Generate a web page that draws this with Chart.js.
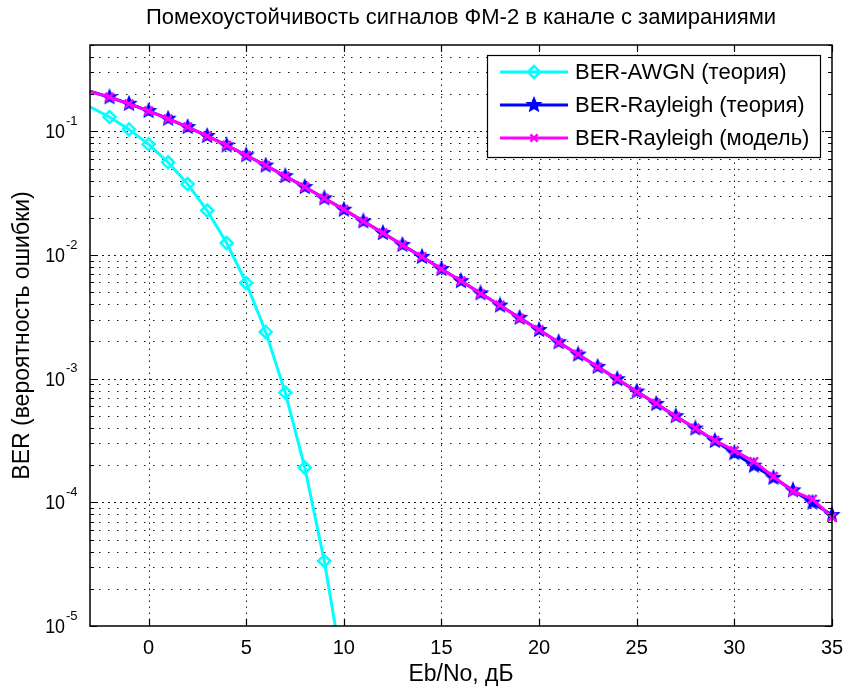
<!DOCTYPE html>
<html>
<head>
<meta charset="utf-8">
<script src="https://cdn.jsdelivr.net/npm/chart.js@4.4.1/dist/chart.umd.min.js"></script>
<style>
  html, body { margin: 0; padding: 0; background: #fff; }
  #wrap { width: 845px; height: 689px; }
</style>
</head>
<body>
<div id="wrap"><canvas id="c"></canvas></div>
<script>
// Eb/No grid, dB
const ebno = [-3, -2, -1, 0, 1, 2, 3, 4, 5, 6, 7, 8, 9, 10, 11, 12, 13, 14, 15, 16,
  17, 18, 19, 20, 21, 22, 23, 24, 25, 26, 27, 28, 29, 30, 31, 32, 33, 34, 35];

// BPSK in AWGN, theory (-3 .. 10 dB)
const berAwgn = [0.1584, 0.1306, 0.1038, 0.0786, 0.0563, 0.0375, 0.0229, 0.0125,
  0.00595, 0.00239, 7.73e-4, 1.91e-4, 3.36e-5, 3.87e-6];

// BPSK in Rayleigh fading, theory
const berRayTheory = [0.2111, 0.1890, 0.1673, 0.1464, 0.1267, 0.1085, 0.0919, 0.0771,
  0.0642, 0.0530, 0.0435, 0.0355, 0.0288, 0.0233, 0.01875, 0.01507, 0.01208, 0.00967,
  0.00772, 0.00616, 0.00491, 0.00391, 0.00311, 0.00248, 0.001974, 0.001570, 0.001248,
  9.92e-4, 7.88e-4, 6.26e-4, 4.98e-4, 3.96e-4, 3.14e-4, 2.50e-4, 1.98e-4, 1.58e-4,
  1.25e-4, 9.95e-5, 7.90e-5];

// BPSK in Rayleigh fading, simulation
const berRayModel = [0.2108, 0.1893, 0.1671, 0.1466, 0.1265, 0.1087, 0.0917, 0.0773,
  0.0641, 0.0531, 0.0434, 0.0356, 0.0287, 0.0234, 0.01872, 0.01512, 0.01205, 0.00970,
  0.00769, 0.00619, 0.00488, 0.00393, 0.00309, 0.00249, 0.00196, 0.00158, 0.00124,
  9.98e-4, 7.81e-4, 6.32e-4, 4.94e-4, 3.99e-4, 3.17e-4, 2.62e-4, 2.14e-4, 1.62e-4,
  1.23e-4, 1.06e-4, 7.6e-5];

const xTicks = [0, 5, 10, 15, 20, 25, 30, 35];
const yDecades = [1e-5, 1e-4, 1e-3, 1e-2, 1e-1];
const yExponents = [-5, -4, -3, -2, -1];

const seriesNames = ['BER-AWGN (теория)', 'BER-Rayleigh (теория)', 'BER-Rayleigh (модель)'];
const chartTitle = 'Помехоустойчивость сигналов ФМ-2 в канале с замираниями';

const FONT = "'Liberation Sans', Arial, sans-serif";
const Y_MIN = 1e-5, Y_MAX = 0.5;

function points(ys) {
  return ys.map((y, i) => ({ x: ebno[i], y: y }));
}

// filled five-point star used as a marker
function makeStar(r, color) {
  const c = document.createElement('canvas');
  const s = Math.ceil(r * 2 + 3);
  c.width = c.height = s;
  const g = c.getContext('2d');
  g.beginPath();
  for (let i = 0; i < 10; i++) {
    const rad = i % 2 ? r * 0.45 : r;
    const a = -Math.PI / 2 + i * Math.PI / 5;
    g.lineTo(s / 2 + rad * Math.cos(a), s / 2 + rad * Math.sin(a));
  }
  g.closePath();
  g.fillStyle = color;
  g.fill();
  g.strokeStyle = color;
  g.lineWidth = 1.2;
  g.stroke();
  return c;
}
const starMarker = makeStar(7.5, '#0000ff');

// no marker at the first point (left edge)
const markerRadius = r => ctx => (ctx.raw && ctx.raw.x < -2.5 ? 0 : r);

// dotted grid, box, inward ticks, log labels, title and legend
const boxPlugin = {
  id: 'box',
  beforeDatasetsDraw(chart) {
    const { ctx, chartArea: a, scales: { x, y } } = chart;
    ctx.save();
    ctx.strokeStyle = '#1a1a1a';
    ctx.lineWidth = 1;
    y.ticks.forEach(t => {
      const py = Math.round(y.getPixelForValue(t.value)) + 0.5;
      if (py < a.top + 1 || py > a.bottom - 1) return;
      ctx.setLineDash(t.major ? [2, 4] : [1.5, 7.5]);
      ctx.beginPath();
      ctx.moveTo(a.left, py);
      ctx.lineTo(a.right, py);
      ctx.stroke();
    });
    ctx.setLineDash([1.5, 4.5]);
    x.ticks.forEach(t => {
      const px = Math.round(x.getPixelForValue(t.value)) + 0.5;
      if (px < a.left + 1 || px > a.right - 1) return;
      ctx.beginPath();
      ctx.moveTo(px, a.bottom);
      ctx.lineTo(px, a.top);
      ctx.stroke();
    });
    ctx.restore();
  },
  afterDatasetsDraw(chart) {
    const { ctx, chartArea: a, scales: { x, y } } = chart;
    ctx.save();
    ctx.strokeStyle = '#000';
    ctx.lineWidth = 1.5;
    ctx.strokeRect(a.left, a.top, a.right - a.left, a.bottom - a.top);
    ctx.lineWidth = 1.2;
    ctx.beginPath();
    y.ticks.forEach(t => {
      const py = Math.round(y.getPixelForValue(t.value)) + 0.5;
      const len = t.major ? 7 : 4;
      ctx.moveTo(a.left, py); ctx.lineTo(a.left + len, py);
      ctx.moveTo(a.right, py); ctx.lineTo(a.right - len, py);
    });
    x.ticks.forEach(t => {
      const px = Math.round(x.getPixelForValue(t.value)) + 0.5;
      ctx.moveTo(px, a.bottom); ctx.lineTo(px, a.bottom - 7);
      ctx.moveTo(px, a.top); ctx.lineTo(px, a.top + 7);
    });
    ctx.stroke();

    // log tick labels: 10 with a raised exponent
    ctx.fillStyle = '#000';
    ctx.textBaseline = 'middle';
    yDecades.forEach((v, i) => {
      const py = y.getPixelForValue(v);
      ctx.save();
      ctx.translate(a.left - 25, py + 1);
      ctx.scale(0.85, 1);
      ctx.font = '21px ' + FONT;
      ctx.textAlign = 'right';
      ctx.fillText('10', 0, 0);
      ctx.restore();
      ctx.font = '13px ' + FONT;
      ctx.textAlign = 'left';
      ctx.fillText(String(yExponents[i]), a.left - 24, py - 10);
    });
    ctx.restore();
  },
  afterDraw(chart) {
    const { ctx, chartArea: a } = chart;
    const ds = chart.data.datasets;

    ctx.save();
    ctx.fillStyle = '#000';
    ctx.font = '22px ' + FONT;
    ctx.textAlign = 'center';
    ctx.textBaseline = 'middle';
    ctx.fillText(chartTitle, (a.left + a.right) / 2, 18);

    // legend box in the upper right corner
    const bx = 487, by = 55, bw = 333, bh = 102;
    const rows = [72, 105, 138];
    ctx.fillStyle = '#fff';
    ctx.fillRect(bx, by, bw, bh);
    ctx.strokeStyle = '#000';
    ctx.lineWidth = 1.2;
    ctx.strokeRect(bx + 0.5, by + 0.5, bw, bh);
    seriesNames.forEach((name, i) => {
      const d = ds[i];
      const ry = rows[i];
      ctx.strokeStyle = d.borderColor;
      ctx.lineWidth = 3;
      ctx.beginPath();
      ctx.moveTo(500, ry);
      ctx.lineTo(568, ry);
      ctx.stroke();
      ctx.fillStyle = d.legendFill;
      ctx.strokeStyle = d.pointBorderColor;
      ctx.lineWidth = d.pointBorderWidth;
      Chart.helpers.drawPoint(ctx, {
        pointStyle: d.pointStyle, radius: d.legendRadius, rotation: 0,
        borderWidth: d.pointBorderWidth
      }, 534, ry);
      ctx.fillStyle = '#000';
      ctx.font = '22px ' + FONT;
      ctx.textAlign = 'left';
      ctx.textBaseline = 'middle';
      ctx.fillText(name, 575, ry + 1);
    });
    ctx.restore();
  }
};

new Chart(document.getElementById('c'), {
  type: 'line',
  data: {
    datasets: [
      {
        label: seriesNames[0],
        data: points(berAwgn),
        borderColor: '#00ffff',
        borderWidth: 3,
        pointStyle: 'rectRot',
        pointRadius: markerRadius(6),
        pointBorderColor: '#00ffff',
        pointBackgroundColor: 'rgba(0,0,0,0)',
        pointBorderWidth: 2.5,
        legendFill: 'rgba(0,0,0,0)',
        legendRadius: 6,
        order: 2
      },
      {
        label: seriesNames[1],
        data: points(berRayTheory),
        borderColor: '#0000ff',
        borderWidth: 3,
        pointStyle: starMarker,
        pointRadius: markerRadius(7),
        pointBorderColor: '#0000ff',
        pointBackgroundColor: '#0000ff',
        pointBorderWidth: 1,
        legendFill: '#0000ff',
        legendRadius: 7,
        clip: false,
        order: 1
      },
      {
        label: seriesNames[2],
        data: points(berRayModel),
        borderColor: '#ff00ff',
        borderWidth: 3,
        pointStyle: 'crossRot',
        pointRadius: markerRadius(6),
        pointBorderColor: '#ff00ff',
        pointBackgroundColor: '#ff00ff',
        pointBorderWidth: 2.5,
        legendFill: '#ff00ff',
        legendRadius: 5,
        clip: false,
        order: 0
      }
    ]
  },
  options: {
    responsive: true,
    maintainAspectRatio: false,
    animation: false,
    layout: { padding: { left: 0, right: 13, top: 45, bottom: 0 } },
    elements: { line: { tension: 0 } },
    scales: {
      x: {
        type: 'linear',
        min: -3,
        max: 35,
        afterBuildTicks: s => { s.ticks = xTicks.map(v => ({ value: v })); },
        afterFit: s => { s.height = 63; s.paddingLeft = 0; s.paddingRight = 0; },
        grid: { display: false, drawTicks: false },
        border: { display: false },
        ticks: {
          color: '#000',
          padding: 10,
          font: { family: FONT, size: 20 },
          callback: v => String(v)
        },
        title: {
          display: true,
          text: 'Eb/No, дБ',
          color: '#000',
          font: { family: FONT, size: 23 },
          padding: { top: 0, bottom: 1 }
        }
      },
      y: {
        type: 'logarithmic',
        min: Y_MIN,
        max: Y_MAX,
        afterBuildTicks: s => {
          const ticks = [];
          yDecades.forEach(d => {
            for (let m = 1; m <= 9; m++) {
              const v = d * m;
              if (v <= Y_MAX * 1.0001) ticks.push({ value: v, major: m === 1 });
            }
          });
          s.ticks = ticks;
        },
        afterFit: s => { s.width = 90; s.paddingTop = 0; s.paddingBottom = 0; },
        grid: { display: false, drawTicks: false },
        border: { display: false },
        ticks: { display: false },
        title: {
          display: true,
          text: 'BER (вероятность ошибки)',
          color: '#000',
          font: { family: FONT, size: 23 },
          padding: { top: 9, bottom: 0 }
        }
      }
    },
    plugins: {
      legend: { display: false },
      tooltip: { enabled: false },
      title: { display: false }
    }
  },
  plugins: [boxPlugin]
});
</script>
</body>
</html>
